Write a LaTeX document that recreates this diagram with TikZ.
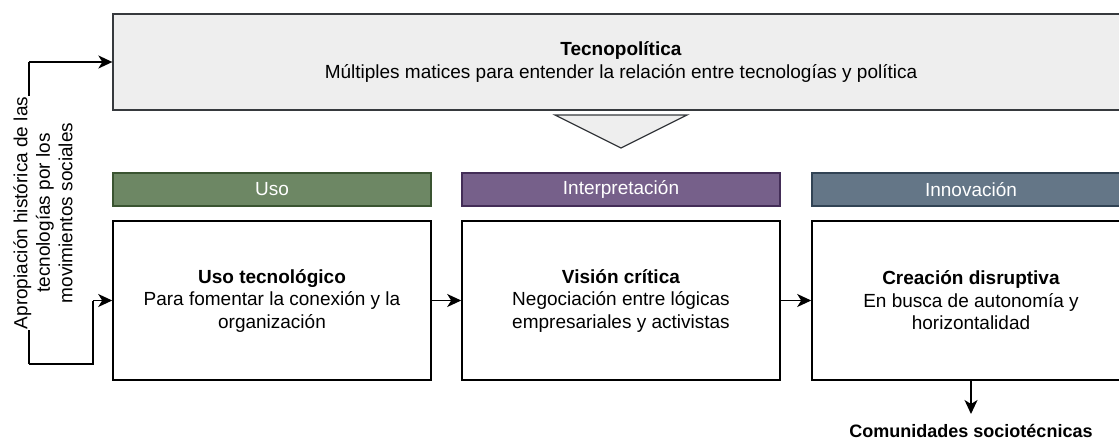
\documentclass[tikz,border=0pt]{standalone}
\usepackage{fontspec}
\setmainfont{Liberation Sans}
\usetikzlibrary{arrows.meta}
\definecolor{topfill}{HTML}{EEEEEE}
\definecolor{topline}{HTML}{36393D}
\definecolor{usofill}{HTML}{6D8764}
\definecolor{usoline}{HTML}{3A5431}
\definecolor{intfill}{HTML}{76608A}
\definecolor{intline}{HTML}{432D57}
\definecolor{innfill}{HTML}{647687}
\definecolor{innline}{HTML}{314354}
\tikzset{
  txt/.style={font=\fontsize{19}{22.5}\selectfont, align=center},
  header/.style={txt, draw, line width=1.3pt, text=white, minimum width=318pt, minimum height=33pt, inner sep=0pt},
  mainbox/.style={txt, draw=black, line width=1.6pt, fill=white, minimum width=318pt, minimum height=159pt, inner sep=0pt},
  conn/.style={line width=1.6pt, -{Stealth[length=14pt,width=13pt,inset=4pt]}},
  plain/.style={line width=1.6pt}
}
\begin{document}
\begin{tikzpicture}[x=1pt,y=-1pt]
\useasboundingbox (0,0) rectangle (1119,442);
\clip (0,0) rectangle (1119,442);
\node[txt, draw=topline, fill=topfill, line width=1.3pt, minimum width=1016pt, minimum height=96pt, inner sep=0pt] (top) at (621,62)
  {\textbf{Tecnopolítica}\\Múltiples matices para entender la relación entre tecnologías y política};
\draw[draw=topline, fill=topfill, line width=1.3pt] (555,115) -- (687,115) -- (621,148) -- cycle;
\node[header, draw=usoline, fill=usofill] (h1) at (272,189.5) {Uso};
\node[header, draw=intline, fill=intfill] (h2) at (621,189.5) {Interpretación};
\node[header, draw=innline, fill=innfill] (h3) at (971,189.5) {Innovación};
\node[mainbox] (b1) at (272,300.5) {\textbf{Uso tecnológico}\\Para fomentar la conexión y la\\organización};
\node[mainbox] (b2) at (621,300.5) {\textbf{Visión crítica}\\Negociación entre lógicas\\empresariales y activistas};
\node[mainbox] (b3) at (971,300.5) {\textbf{Creación disruptiva}\\En busca de autonomía y\\horizontalidad};
\draw[conn] (b1.east) -- (b2.west);
\draw[conn] (b2.east) -- (b3.west);
\coordinate (c1) at (971,414);
\draw[conn] (b3.south) -- (c1);
\node[txt, font=\fontsize{18}{22.5}\selectfont\bfseries] (com) at (971,431) {Comunidades sociotécnicas};
\coordinate (l1) at (29,62);
\coordinate (l2) at (29,364);
\coordinate (l3) at (93,364);
\coordinate (l4) at (93,300.5);
\draw[plain] (l2) -- (l1);
\draw[conn] (l1) -- (top.west);
\draw[plain] (l2) -- (l3) -- (l4);
\draw[conn] (l4) -- (b1.west);
\node[txt, rotate=90, fill=white, inner sep=1pt] (lab) at (43,213) {Apropiación histórica de las\\tecnologías por los\\movimientos sociales};
\end{tikzpicture}
\end{document}
